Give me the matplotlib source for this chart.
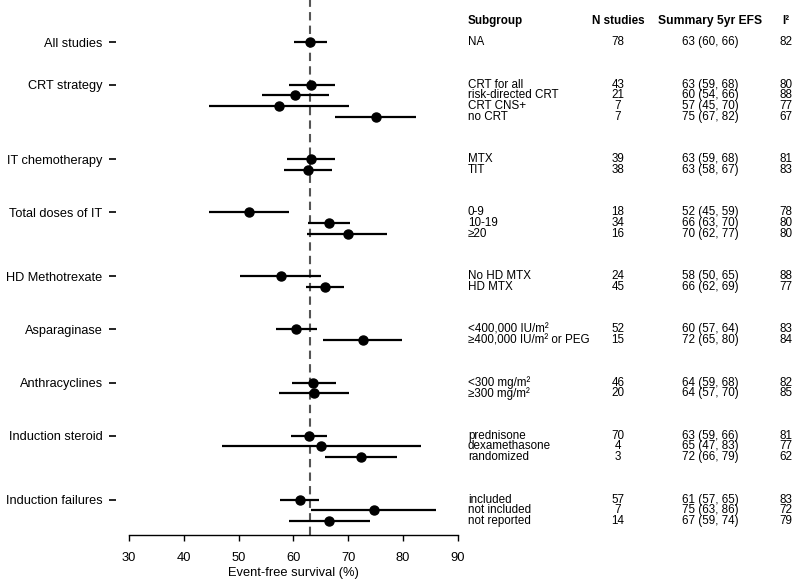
import matplotlib
matplotlib.use("Agg")
import matplotlib.pyplot as plt
from matplotlib.transforms import blended_transform_factory

plt.rcParams["font.family"] = ["Liberation Sans", "DejaVu Sans"]

# groups and how many subgroup rows each has
groups = ["All studies", "CRT strategy", "IT chemotherapy", "Total doses of IT",
          "HD Methotrexate", "Asparaginase", "Anthracyclines",
          "Induction steroid", "Induction failures"]
group_sizes = [1, 4, 2, 3, 2, 2, 2, 3, 3]

subgroups = ["NA",
             "CRT for all", "risk-directed CRT", "CRT CNS+", "no CRT",
             "MTX", "TIT",
             "0-9", "10-19", "≥20",
             "No HD MTX", "HD MTX",
             "<400,000 IU/m²", "≥400,000 IU/m² or PEG",
             "<300 mg/m²", "≥300 mg/m²",
             "prednisone", "dexamethasone", "randomized",
             "included", "not included", "not reported"]
n_studies = [78, 43, 21, 7, 7, 39, 38, 18, 34, 16, 24, 45, 52, 15, 46, 20,
             70, 4, 3, 57, 7, 14]
summary = ["63 (60, 66)",
           "63 (59, 68)", "60 (54, 66)", "57 (45, 70)", "75 (67, 82)",
           "63 (59, 68)", "63 (58, 67)",
           "52 (45, 59)", "66 (63, 70)", "70 (62, 77)",
           "58 (50, 65)", "66 (62, 69)",
           "60 (57, 64)", "72 (65, 80)",
           "64 (59, 68)", "64 (57, 70)",
           "63 (59, 66)", "65 (47, 83)", "72 (66, 79)",
           "61 (57, 65)", "75 (63, 86)", "67 (59, 74)"]
i2 = [82, 80, 88, 77, 67, 81, 83, 78, 80, 80, 88, 77, 83, 84, 82, 85,
      81, 77, 62, 83, 72, 79]

# plotted estimates and confidence limits (EFS %)
est = [63.0, 63.2, 60.2, 57.4, 75.0, 63.2, 62.7, 51.9, 66.4, 69.9, 57.7, 65.8,
       60.5, 72.6, 63.6, 63.8, 62.8, 65.1, 72.3, 61.2, 74.7, 66.5]
lo = [60.1, 59.1, 54.3, 44.6, 67.6, 58.9, 58.2, 44.6, 62.6, 62.5, 50.3, 62.3,
      56.8, 65.3, 59.7, 57.4, 59.5, 47.0, 65.7, 57.6, 63.2, 59.1]
hi = [66.2, 67.5, 66.4, 70.2, 82.3, 67.6, 67.1, 59.1, 70.4, 77.1, 65.1, 69.2,
      64.3, 79.8, 67.8, 70.1, 66.1, 83.3, 78.9, 64.7, 86.0, 73.9]
overall = 63

# row positions: subgroups one row apart, groups separated by a gap
rows, group_rows = [], []
y = 0
for size in group_sizes:
    group_rows.append(y)
    rows.extend(range(y, y + size))
    y += size + 3

fig = plt.figure(figsize=(8, 5.86), dpi=100)
ax = fig.add_axes([115.8 / 800, 1 - 535 / 586, 355.3 / 800, 535 / 586])

ax.axvline(overall, color="#555555", lw=1.5, linestyle=(0, (4, 2.5)), zorder=1)
ax.hlines(rows, lo, hi, color="black", lw=1.6, zorder=2)
ax.plot(est, rows, "o", color="black", markersize=6.5, zorder=3)

ax.set_xlim(27.6, 92.4)
ax.set_ylim(46.32, -3.96)
ax.set_xticks(range(30, 91, 10))
ax.set_yticks(group_rows)
ax.set_yticklabels(groups)
for s in ["top", "right", "left"]:
    ax.spines[s].set_visible(False)
ax.spines["bottom"].set_bounds(30, 90)
ax.spines["bottom"].set_linewidth(1.0)
ax.tick_params(axis="x", length=4, width=1.0, pad=8, labelsize=9.3)
ax.tick_params(axis="y", length=5, width=1.2, pad=4.5, labelsize=9.2)
ax.set_xlabel("Event-free survival (%)", fontsize=9.3)
ax.xaxis.set_label_coords((293.5 - 115.8) / 355.3, -32 / 535)

# table to the right
tr = blended_transform_factory(fig.transFigure, ax.transData)
fs = 8.4
hy = -2
ax.text(468 / 800, hy, "Subgroup", transform=tr, fontsize=fs, weight="bold", va="center", ha="left")
ax.text(618 / 800, hy, "N studies", transform=tr, fontsize=fs, weight="bold", va="center", ha="center")
ax.text(710 / 800, hy, "Summary 5yr EFS", transform=tr, fontsize=8.7, weight="bold", va="center", ha="center")
ax.text(786 / 800, hy, "I²", transform=tr, fontsize=fs, weight="bold", va="center", ha="center")
for r, sg, n, sm, h in zip(rows, subgroups, n_studies, summary, i2):
    ax.text(468 / 800, r, sg, transform=tr, fontsize=fs, va="center", ha="left")
    ax.text(618 / 800, r, str(n), transform=tr, fontsize=fs, va="center", ha="center")
    ax.text(710 / 800, r, sm, transform=tr, fontsize=fs, va="center", ha="center")
    ax.text(786 / 800, r, str(h), transform=tr, fontsize=fs, va="center", ha="center")

fig.savefig("out.png", dpi=100)
